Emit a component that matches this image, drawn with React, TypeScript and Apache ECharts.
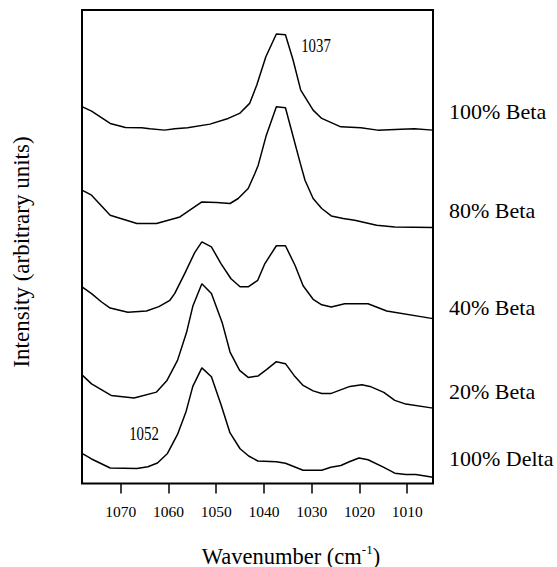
import React, { useEffect, useRef } from "react";
import * as echarts from "echarts";

// Wavenumber (cm-1) vs intensity (arbitrary units, offset stacked)
const beta100: [number, number][] = [
  [1078.1, 376.5], [1076.1, 372], [1072.2, 359.7], [1069.0, 355.7], [1065.6, 355.3],
  [1063.9, 354.3], [1060.8, 353], [1058.7, 354.3], [1056.0, 355.3], [1051.3, 359],
  [1047.5, 364.7], [1045.1, 369.7], [1043.0, 379.7], [1041.5, 398], [1039.6, 426.3],
  [1037.4, 449], [1035.5, 448.3], [1033.9, 423], [1032.3, 393], [1029.7, 373],
  [1027.9, 364.7], [1023.9, 356.3], [1019.7, 355.3], [1016.2, 353], [1011.3, 354],
  [1008.5, 354.3], [1004.6, 353],
];

const beta80: [number, number][] = [
  [1078.1, 293], [1076.1, 288], [1072.2, 268], [1066.6, 259.7], [1062.5, 259.7],
  [1057.6, 266.3], [1053.0, 281.3], [1049.9, 280.7], [1047.1, 279.7], [1045.4, 284.7],
  [1043.3, 294.7], [1041.9, 309.7], [1041.2, 318], [1039.5, 348], [1037.4, 376.3],
  [1035.5, 375.3], [1032.4, 320], [1031.4, 303], [1029.7, 284.7], [1027.9, 274.7],
  [1025.9, 267.3], [1023.4, 264.7], [1021.0, 263], [1016.4, 258], [1012.6, 256.3],
  [1004.6, 255.8],
];

const beta40: [number, number][] = [
  [1078.1, 196.5], [1076.1, 189.7], [1074.0, 181.3], [1072.2, 175.3], [1068.5, 171],
  [1064.6, 172.3], [1062.0, 176.7], [1059.7, 183], [1058.7, 189.7], [1056.6, 209.7],
  [1054.5, 230.7], [1053.0, 241.3], [1051.0, 236.3], [1049.0, 219.7], [1046.9, 204.5],
  [1045.0, 196.5], [1043.3, 196.5], [1041.3, 203], [1039.8, 219.7], [1037.4, 237.5],
  [1035.5, 237.5], [1033.5, 218], [1031.8, 197.5], [1029.7, 184], [1027.9, 178.5],
  [1025.9, 176.3], [1023.1, 179.5], [1018.2, 179.5], [1014.3, 172.3], [1004.6, 164.7],
];

const beta20: [number, number][] = [
  [1078.1, 108.5], [1076.1, 99.5], [1072.0, 88], [1067.2, 85.5], [1062.5, 91.3],
  [1060.3, 103], [1058.1, 123], [1056.2, 151], [1054.9, 177], [1053.0, 199.5],
  [1051.0, 189.7], [1048.7, 160], [1047.1, 131.3], [1045.1, 113], [1043.3, 106],
  [1041.2, 107.5], [1039.4, 114], [1037.4, 121.7], [1035.5, 119.7], [1033.7, 108],
  [1031.8, 98], [1029.7, 92.5], [1027.9, 90], [1025.9, 90], [1022.0, 97],
  [1019.5, 98.7], [1017.8, 97], [1014.9, 91], [1012.6, 83], [1010.3, 79.3],
  [1004.6, 75.3],
];

const delta100: [number, number][] = [
  [1078.1, 30], [1076.1, 24.5], [1072.2, 15.5], [1066.6, 15], [1064.3, 16.7],
  [1062.3, 20.5], [1060.2, 30], [1058.1, 49], [1056.3, 72], [1054.9, 97],
  [1053.0, 115.5], [1051.0, 106.7], [1049.0, 79], [1047.1, 50.5], [1045.0, 34.7],
  [1043.2, 27.5], [1041.3, 22.5], [1037.4, 21.7], [1035.5, 20.3], [1031.8, 13.3],
  [1027.9, 13.3], [1026.0, 16.3], [1023.9, 18], [1022.0, 22], [1020.1, 25.5],
  [1018.2, 23.7], [1015.0, 16.3], [1012.6, 10.3], [1010.3, 9], [1008.2, 9],
  [1004.6, 6.3],
];

const tickValues = [1070, 1060, 1050, 1040, 1030, 1020, 1010];
const seriesNames = ["100% Beta", "80% Beta", "40% Beta", "20% Beta", "100% Delta"];
const seriesData = [beta100, beta80, beta40, beta20, delta100];
const peakLabels = ["1037", "1052"];

const FONT = "'Liberation Serif', 'Times New Roman', serif";

export default function App() {
  const ref = useRef<HTMLDivElement>(null);

  useEffect(() => {
    if (!ref.current) return;
    const chart = echarts.init(ref.current, null, { renderer: "svg" });

    const labelYs = [111, 210, 307.5, 391, 458.5];

    const option: any = {
      animation: false,
      backgroundColor: "#fff",
      grid: {
        left: 82,
        right: 124,
        top: 10,
        bottom: 83.5,
        show: true,
        borderColor: "#000",
        borderWidth: 2,
        backgroundColor: "transparent",
      },
      xAxis: {
        type: "value",
        min: 1004.6,
        max: 1078.1,
        inverse: true,
        axisLine: { show: false },
        splitLine: { show: false },
        axisTick: {
          show: true,
          inside: false,
          length: 10,
          customValues: tickValues,
          lineStyle: { color: "#000", width: 1.5 },
        },
        axisLabel: {
          customValues: tickValues,
          formatter: (v: number) => String(v),
          margin: 20,
          color: "#000",
          fontSize: 15.5,
          fontFamily: FONT,
        },
      },
      yAxis: {
        type: "value",
        min: 0,
        max: 473,
        show: false,
      },
      series: seriesData.map((d, i) => ({
        name: seriesNames[i],
        type: "line",
        data: d,
        showSymbol: false,
        symbol: "none",
        silent: true,
        clip: true,
        lineStyle: { color: "#000", width: 1.5 },
      })),
      graphic: [
        ...seriesNames.map((n, i) => ({
          type: "text",
          x: 449,
          y: labelYs[i],
          silent: true,
          style: {
            text: n,
            fontSize: 22,
            fontFamily: FONT,
            fill: "#000",
            align: "left",
            verticalAlign: "middle",
          },
        })),
        {
          type: "text",
          x: 316,
          y: 46,
          scaleX: 0.78,
          silent: true,
          style: {
            text: peakLabels[0],
            fontSize: 19,
            fontFamily: FONT,
            fill: "#000",
            align: "center",
            verticalAlign: "middle",
          },
        },
        {
          type: "text",
          x: 144,
          y: 433.5,
          scaleX: 0.78,
          silent: true,
          style: {
            text: peakLabels[1],
            fontSize: 19,
            fontFamily: FONT,
            fill: "#000",
            align: "center",
            verticalAlign: "middle",
          },
        },
        {
          type: "text",
          x: 21,
          y: 252,
          rotation: Math.PI / 2,
          silent: true,
          style: {
            text: "Intensity (arbitrary units)",
            fontSize: 23,
            fontFamily: FONT,
            fill: "#000",
            align: "center",
            verticalAlign: "middle",
          },
        },
        {
          type: "text",
          x: 291,
          y: 556,
          silent: true,
          style: {
            text: "{a|Wavenumber (cm}{s|-1}{a|)}",
            fill: "#000",
            align: "center",
            verticalAlign: "middle",
            rich: {
              a: { fontSize: 22.5, fontFamily: FONT, fill: "#000", lineHeight: 26 },
              s: { fontSize: 13, fontFamily: FONT, fill: "#000", verticalAlign: "top", lineHeight: 14 },
            },
          },
        },
      ],
    };

    chart.setOption(option);
    return () => chart.dispose();
  }, []);

  return (
    <div
      ref={ref}
      style={{ position: "fixed", left: 0, top: 0, width: 557, height: 567, background: "#fff" }}
    />
  );
}
